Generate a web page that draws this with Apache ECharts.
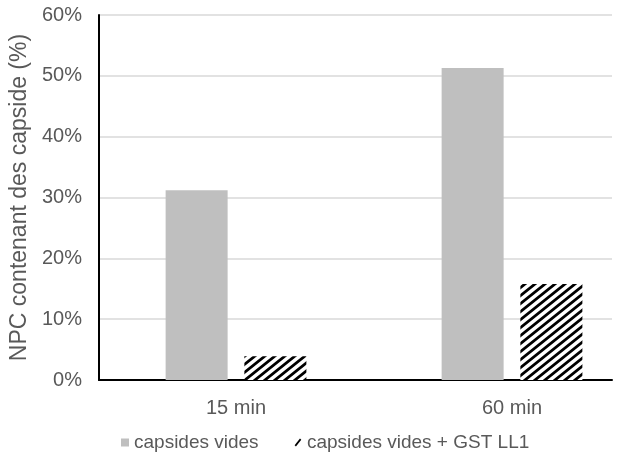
<!DOCTYPE html>
<html>
<head>
<meta charset="utf-8">
<script src="https://cdn.jsdelivr.net/npm/echarts@6/dist/echarts.min.js"></script>
<style>
  html, body { margin: 0; padding: 0; background: #fff; }
  #main { width: 636px; height: 459px; }
</style>
</head>
<body>
<div id="main"></div>
<script>
var myChart = echarts.init(document.getElementById('main'));

var categories = ['15 min', '60 min'];
var vides = [31.2, 51.3];
var videsGst = [3.9, 15.8];
var seriesNames = ['capsides vides', 'capsides vides + GST LL1'];

// motif hachuré
var tile = document.createElement('canvas');
tile.width = 10;
tile.height = 8;
var ctx = tile.getContext('2d');
ctx.fillStyle = '#fff';
ctx.fillRect(0, 0, 10, 8);
ctx.strokeStyle = '#000';
ctx.lineWidth = 2.8;
ctx.beginPath();
ctx.moveTo(-2.5, 10); ctx.lineTo(12.5, -2);
ctx.moveTo(-2.5, 2); ctx.lineTo(2.5, -2);
ctx.moveTo(7.5, 10); ctx.lineTo(12.5, 6);
ctx.stroke();

var txt = '#595959';
var font = 'Liberation Sans';

option = {
    backgroundColor: '#ffffff',
    animation: false,
    grid: [{
        left: 98,
        width: 552,
        top: 15,
        bottom: 79,
        outerBoundsMode: 'none'
    }, {
        left: 98,
        right: 24,
        top: 15,
        bottom: 79
    }],
    legend: {
        top: 428,
        left: 116,
        itemWidth: 8,
        itemHeight: 8,
        itemGap: 36,
        textStyle: { color: txt, fontFamily: font, fontSize: 19 },
        data: [{
            name: seriesNames[0],
            icon: 'rect',
            itemStyle: { color: '#bfbfbf' }
        }, {
            name: seriesNames[1],
            icon: 'path://M0,10 L8,0 L10,2 L2,12 Z',
            itemStyle: { color: '#000' }
        }]
    },
    xAxis: [{
        type: 'category',
        gridIndex: 0,
        data: categories,
        axisLine: { show: false },
        axisTick: { show: false },
        axisLabel: { color: txt, fontFamily: font, fontSize: 20, margin: 18 }
    }, {
        type: 'category',
        gridIndex: 1,
        data: categories,
        axisLine: { lineStyle: { color: '#000', width: 2 } },
        axisTick: { show: false },
        axisLabel: { show: false }
    }],
    yAxis: [{
        type: 'value',
        gridIndex: 0,
        min: 0,
        max: 60,
        interval: 10,
        show: false
    }, {
        type: 'value',
        gridIndex: 1,
        min: 0,
        max: 60,
        interval: 10,
        name: 'NPC contenant des capside (%)',
        nameLocation: 'middle',
        nameGap: 67,
        nameTextStyle: { color: txt, fontFamily: font, fontSize: 23 },
        axisLine: { show: true, lineStyle: { color: '#000', width: 2 } },
        axisLabel: {
            color: txt, fontFamily: font, fontSize: 20, margin: 17,
            formatter: '{value}%'
        },
        splitLine: { lineStyle: { color: '#d9d9d9', width: 1.5 } }
    }],
    series: [{
        name: seriesNames[0],
        type: 'bar',
        xAxisIndex: 0,
        yAxisIndex: 0,
        data: vides,
        barWidth: 62,
        barGap: '27%',
        itemStyle: { color: '#bfbfbf' }
    }, {
        name: seriesNames[1],
        type: 'bar',
        xAxisIndex: 0,
        yAxisIndex: 0,
        data: videsGst,
        barWidth: 62,
        itemStyle: { color: { image: tile, repeat: 'repeat' } }
    }]
};

myChart.setOption(option);
</script>
</body>
</html>
